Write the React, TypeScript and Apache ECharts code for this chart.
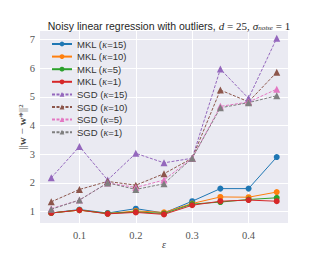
import React, { useEffect, useRef } from "react";
import * as echarts from "echarts";

const eps = [0.05, 0.1, 0.15, 0.2, 0.25, 0.3, 0.35, 0.4, 0.45];
const mkl15 = [0.95, 1.07, 0.95, 1.1, 0.95, 1.36, 1.8, 1.8, 2.9];
const mkl10 = [0.95, 1.05, 0.93, 1.02, 0.97, 1.28, 1.51, 1.5, 1.68];
const mkl5 = [0.95, 1.05, 0.93, 0.99, 0.93, 1.26, 1.33, 1.42, 1.48];
const mkl1 = [0.95, 1.05, 0.92, 0.97, 0.9, 1.22, 1.36, 1.4, 1.36];
const sgd15 = [2.18, 3.27, 2.1, 3.03, 2.7, 2.86, 5.97, 4.95, 7.05];
const sgd10 = [1.34, 1.77, 2.05, 1.92, 2.32, 2.86, 5.24, 4.83, 5.86];
const sgd5 = [1.1, 1.4, 2.0, 1.84, 2.1, 2.86, 4.67, 4.82, 5.27];
const sgd1 = [1.08, 1.4, 2.0, 1.77, 1.97, 2.86, 4.62, 4.8, 5.04];

const xTicks = [0.1, 0.2, 0.3, 0.4];
const yTicks = [1, 2, 3, 4, 5, 6, 7];

const seriesDefs = [
  { method: "MKL", k: 15, values: mkl15, color: "#1f77b4" },
  { method: "MKL", k: 10, values: mkl10, color: "#ff7f0e" },
  { method: "MKL", k: 5, values: mkl5, color: "#2ca02c" },
  { method: "MKL", k: 1, values: mkl1, color: "#d62728" },
  { method: "SGD", k: 15, values: sgd15, color: "#9467bd" },
  { method: "SGD", k: 10, values: sgd10, color: "#8c564b" },
  { method: "SGD", k: 5, values: sgd5, color: "#e377c2" },
  { method: "SGD", k: 1, values: sgd1, color: "#7f7f7f" },
];

const SANS = "Liberation Sans, Arial, sans-serif";
const SERIF = "Liberation Serif, DejaVu Serif, serif";

export default function App() {
  const ref = useRef<HTMLDivElement>(null);
  useEffect(() => {
    document.body.style.margin = "0";
    if (!ref.current) return;
    const chart = echarts.init(ref.current, undefined, { renderer: "svg" });
    const series = seriesDefs.map((d) => {
      const sgd = d.method === "SGD";
      return {
        name: `${d.method} (κ=${d.k})`,
        type: "line",
        data: eps.map((x, i) => [x, d.values[i]]),
        symbol: sgd ? "triangle" : "circle",
        symbolSize: sgd ? 7 : 6,
        color: d.color,
        itemStyle: { color: d.color },
        lineStyle: { width: 1, color: d.color, type: sgd ? [3, 1.5] : "solid" },
        emphasis: { disabled: true },
      };
    });
    chart.setOption({
      animation: false,
      backgroundColor: "#ffffff",
      title: {
        text:
          "Noisy linear regression with outliers, {m|d} {n|= 25,} {m|σ}{s|noise} {n|= 1}",
        left: 164,
        textAlign: "center",
        top: 15,
        textStyle: {
          fontFamily: SANS,
          fontSize: 10.5,
          fontWeight: "normal",
          color: "#262626",
          rich: {
            m: { fontFamily: SERIF, fontStyle: "italic", fontSize: 11, color: "#262626" },
            n: { fontFamily: SERIF, fontSize: 11, color: "#262626" },
            s: { fontFamily: SERIF, fontStyle: "italic", fontSize: 7, color: "#262626", verticalAlign: "bottom", padding: [4, 0, 0, 0] },
          },
        },
      },
      legend: {
        orient: "vertical",
        left: 46,
        top: 34,
        itemWidth: 20,
        itemHeight: 6,
        itemGap: 2.6,
        data: series.map((s) => s.name),
        formatter: (name: string) => name.replace("κ", "{k|κ}"),
        textStyle: {
          fontFamily: SANS,
          fontSize: 9.5,
          lineHeight: 10,
          color: "#333",
          rich: {
            k: { fontFamily: SERIF, fontStyle: "italic", fontSize: 10, color: "#333" },
          },
        },
      },
      grid: {
        left: 40,
        right: 32,
        top: 31,
        bottom: 33,
        show: true,
        backgroundColor: "#EAEAF2",
        borderWidth: 0,
      },
      xAxis: {
        type: "value",
        min: 0.03,
        max: 0.47,
        name: "ε",
        nameLocation: "middle",
        nameGap: 16,
        nameMoveOverlap: false,
        nameTextStyle: { fontFamily: SERIF, fontStyle: "italic", fontSize: 10, color: "#444" },
        axisLine: { show: false },
        axisTick: { show: false, customValues: xTicks },
        axisLabel: {
          customValues: xTicks,
          fontFamily: SERIF,
          fontSize: 10.5,
          color: "#555",
          margin: 7,
          formatter: (v: number) => v.toFixed(1),
        },
        splitLine: { show: true, customValues: xTicks, lineStyle: { color: "#ffffff", width: 1 } },
      },
      yAxis: {
        type: "value",
        min: 0.6,
        max: 7.3,
        name: "||{b|w} − {b|w}*||²",
        nameLocation: "middle",
        nameRotate: 90,
        nameGap: 13,
        nameMoveOverlap: false,
        nameTextStyle: {
          fontFamily: SERIF,
          fontSize: 11,
          color: "#444",
          rich: { b: { fontFamily: SERIF, fontWeight: "bold", fontSize: 11, color: "#444" } },
        },
        axisLine: { show: false },
        axisTick: { show: false, customValues: yTicks },
        axisLabel: {
          customValues: yTicks,
          fontFamily: SERIF,
          fontSize: 10.5,
          color: "#555",
          margin: 5,
        },
        splitLine: { show: true, customValues: yTicks, lineStyle: { color: "#ffffff", width: 1 } },
      },
      series,
    });
    return () => chart.dispose();
  }, []);
  return <div ref={ref} style={{ width: 320, height: 256 }} />;
}
